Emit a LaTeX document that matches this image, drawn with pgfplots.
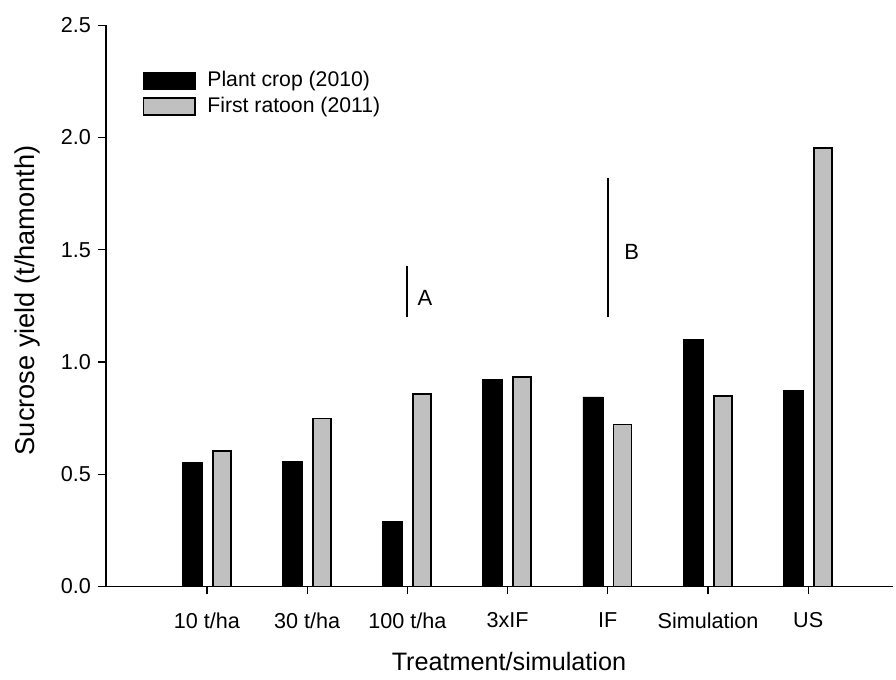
\documentclass[border=0pt]{standalone}
\usepackage{pgfplots}
\pgfplotsset{compat=1.18}
\usepackage{fontspec}
\setmainfont{Liberation Sans}

\definecolor{barGrey}{RGB}{192,192,192}

\begin{document}
\begin{tikzpicture}
\begin{axis}[
  at={(0,0)}, anchor=south west,
  scale only axis, width=393.5pt, height=280.6pt,
  xmin=-0.008, xmax=7.846, ymin=0, ymax=2.5,
  axis lines=left,
  axis line style={-, line width=0.6pt, black},
  tick align=outside, major tick length=4pt,
  tick style={line width=0.6pt, black},
  xtick={1,2,3,4,5,6,7},
  xticklabels={10 t/ha, 30 t/ha, 100 t/ha, 3xIF, IF, Simulation, US},
  xticklabel style={yshift=-5.5pt},
  ytick={0,0.5,1,1.5,2,2.5},
  yticklabel style={/pgf/number format/.cd, fixed, fixed zerofill, precision=1},
  /pgf/number format/assume math mode=true,
  ticklabel style={font=\fontsize{10.8}{13}\selectfont},
  xlabel={Treatment/simulation},
  xlabel style={at={(axis description cs:0.512,-0.1488)}, anchor=base,
    font=\fontsize{12.6}{15}\selectfont},
  ylabel={Sucrose yield (t/hamonth)},
  ylabel style={at={(axis description cs:-0.1,0.51)}, anchor=center,
    font=\fontsize{13.6}{16}\selectfont},
  legend style={at={(axis description cs:0.0466,0.918)}, anchor=north west,
    draw=none, fill=none, inner sep=0pt, outer sep=0pt,
    row sep=3.6pt, column sep=5.7pt,
    nodes={inner sep=0pt, anchor=west, font=\fontsize{10.6}{12.5}\selectfont}},
  legend cell align=left,
  legend image code/.code={\draw[#1] (0pt,-4.25pt) rectangle (25.8pt,4.25pt);},
]
% Plant crop (2010)
\addplot[ybar, bar width=10pt, bar shift=-7.5pt, fill=black, draw=black, line width=0.3pt]
  coordinates {(1,0.553) (2,0.557) (3,0.291) (4,0.921) (5,0.845) (6,1.102) (7,0.873)};
\addlegendentry{Plant crop (2010)}
% First ratoon (2011)
\addplot[ybar, bar width=9pt, bar shift=7.35pt, fill=barGrey, draw=black, line width=0.85pt]
  coordinates {(1,0.604) (2,0.748) (3,0.856) (4,0.932) (5,0.722) (6,0.850) (7,1.953)};
\addlegendentry{First ratoon (2011)}
% LSD bars
\addplot[line width=1pt, black, forget plot] coordinates {(3,1.2) (3,1.428)};
\addplot[line width=1pt, black, forget plot] coordinates {(5,1.2) (5,1.819)};
\node[font=\fontsize{11}{13}\selectfont] at (axis cs:3.176,1.285) {A};
\node[font=\fontsize{11}{13}\selectfont] at (axis cs:5.238,1.491) {B};
\end{axis}
\pgfresetboundingbox
\path (-53pt,-46.75pt) rectangle (395pt,293.25pt);
\end{tikzpicture}
\end{document}
